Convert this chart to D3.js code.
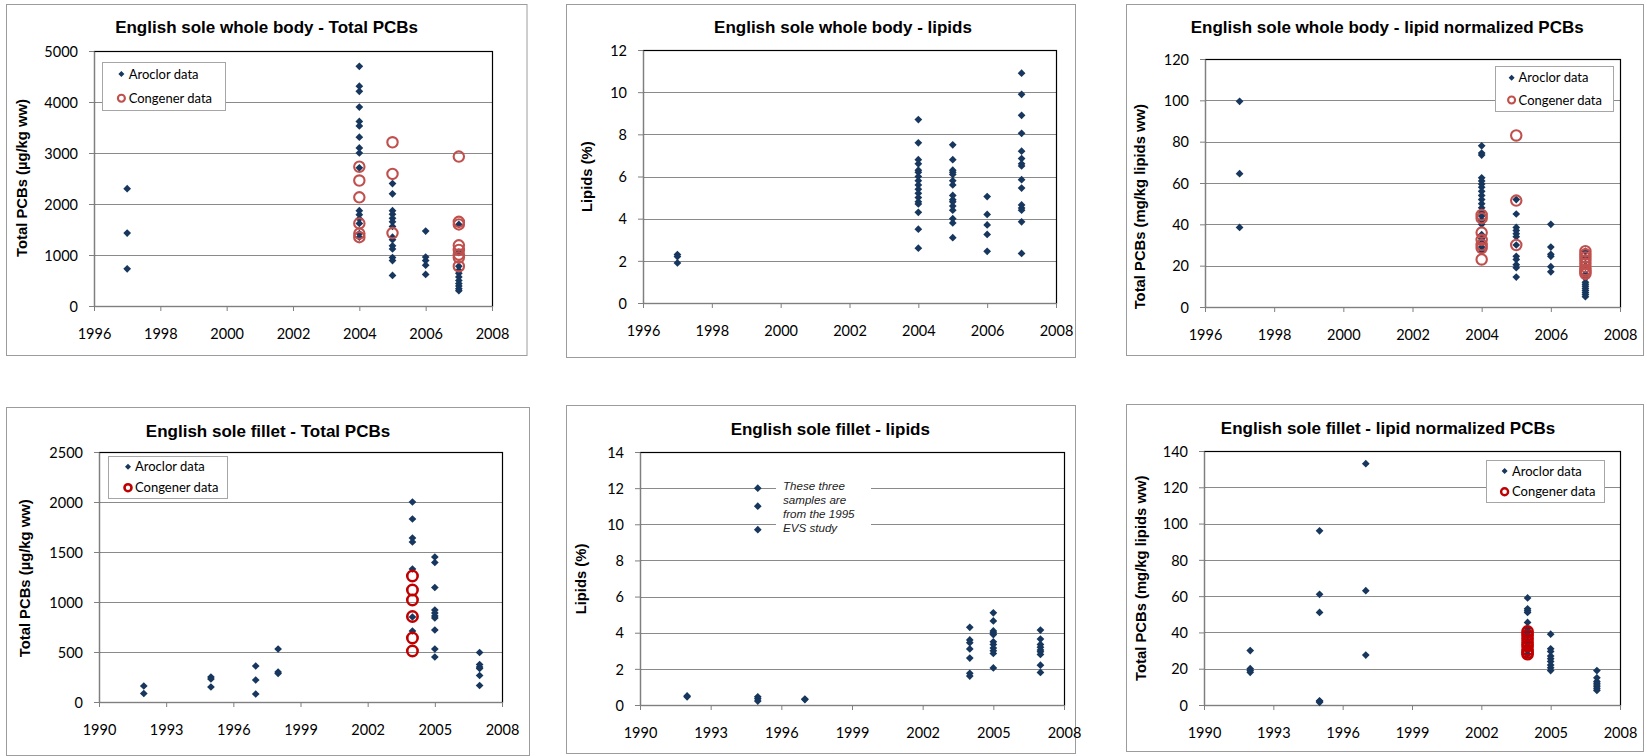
<!DOCTYPE html>
<html>
<head>
<meta charset="utf-8">
<script src="https://cdn.jsdelivr.net/npm/d3@7"></script>
<style>
  html, body { margin: 0; padding: 0; background: #fff; }
  svg { display: block; }
</style>
</head>
<body>
<svg id="chart" width="1647" height="756"></svg>
<script>
// ---------- data: [year, [values...]] ----------
// Whole body, total PCBs (µg/kg ww)
const wbPcbAroclor = [
  [1997, [2300, 1430, 730]],
  [2004, [4700, 4310, 4210, 3900, 3620, 3530, 3310, 3100, 3000, 2710, 1870, 1790, 1710, 1620, 1420, 1350]],
  [2005, [2400, 2200, 1870, 1800, 1720, 1650, 1560, 1350, 1300, 1180, 1120, 950, 890, 600]],
  [2006, [1470, 960, 890, 800, 620]],
  [2007, [1600, 1050, 780, 700, 640, 570, 500, 440, 390, 340, 300]]
];
const wbPcbCongener = [
  [2004, [2730, 2460, 2130, 1620, 1420, 1350]],
  [2005, [3210, 2590, 1430]],
  [2007, [2930, 1650, 1600, 1190, 1100, 1010, 950, 780]]
];
// Whole body, lipids (%)
const wbLipids = [
  [1997, [2.3, 2.2, 1.9]],
  [2004, [8.7, 7.6, 6.8, 6.6, 6.3, 6.2, 6.0, 5.8, 5.6, 5.4, 5.2, 5.0, 4.8, 4.7, 4.3, 3.5, 2.6]],
  [2005, [7.5, 6.8, 6.3, 6.2, 6.1, 5.8, 5.6, 5.1, 4.9, 4.8, 4.6, 4.4, 4.0, 3.8, 3.1]],
  [2006, [5.05, 4.2, 3.7, 3.25, 2.45]],
  [2007, [10.9, 9.9, 8.9, 8.05, 7.2, 6.85, 6.6, 6.5, 5.85, 5.45, 4.65, 4.5, 4.4, 3.85, 2.35]]
];
// Whole body, lipid normalized PCBs (mg/kg lipids ww)
const wbNormAroclor = [
  [1997, [99.5, 64.5, 38.5]],
  [2004, [78, 74.5, 73.5, 62.5, 61, 59.5, 58, 56, 54, 52, 50, 48, 46, 44, 42, 40, 35, 33, 31, 29, 27]],
  [2005, [52, 45, 38.5, 37, 35.5, 34, 30, 24.5, 23, 20.5, 19, 14.5]],
  [2006, [40, 29, 25.5, 24.5, 19.5, 17]],
  [2007, [27, 24, 20, 16, 14, 12, 11, 10, 9, 8, 7, 6, 5]]
];
const wbNormCongener = [
  [2004, [44.5, 43, 36, 32.5, 30, 28.5, 23]],
  [2005, [83, 51.5, 30]],
  [2007, [27, 25.5, 24, 22.5, 21, 19.5, 18, 17, 16]]
];
// Fillet, total PCBs (µg/kg ww)
const filPcbAroclor = [
  [1992, [160, 85]],
  [1995, [250, 230, 150]],
  [1997, [360, 220, 80]],
  [1998, [530, 300, 285]],
  [2004, [2000, 1830, 1640, 1600, 1330, 850, 710]],
  [2005, [1450, 1395, 1145, 920, 890, 860, 840, 720, 530, 450]],
  [2007, [495, 375, 350, 335, 265, 165]]
];
const filPcbCongener = [
  [2004, [1260, 1120, 1020, 855, 640, 510]]
];
// Fillet, lipids (%)
const filLipids = [
  [1992, [0.5, 0.45]],
  [1995, [12.0, 11.0, 9.7, 0.45, 0.35, 0.22]],
  [1997, [0.33, 0.3]],
  [2004, [4.3, 3.6, 3.45, 3.1, 2.6, 1.75, 1.6]],
  [2005, [5.1, 4.65, 4.1, 4.0, 3.9, 3.5, 3.35, 3.15, 3.0, 2.85, 2.05]],
  [2007, [4.15, 3.65, 3.35, 3.2, 3.05, 2.95, 2.8, 2.2, 1.8]]
];
// Fillet, lipid normalized PCBs (mg/kg lipids ww)
const filNormAroclor = [
  [1992, [30, 20, 19, 18]],
  [1995, [96, 61, 51, 2.3, 2.0, 1.5]],
  [1997, [133, 63, 27.5]],
  [2004, [59, 53, 52, 51, 45.5, 42, 40, 38, 35, 32, 30, 28]],
  [2005, [39, 31, 29.5, 27, 25.5, 24, 22, 20.5, 19]],
  [2007, [19, 15, 13, 12, 11, 10, 9, 8]]
];
const filNormCongener = [
  [2004, [40.5, 38.5, 36.5, 34.5, 32.5, 30.5, 29, 28]]
];

// tick labels
const wholeBodyYears = [1996, 1998, 2000, 2002, 2004, 2006, 2008];
const filletYears = [1990, 1993, 1996, 1999, 2002, 2005, 2008];
const ticksPcbWhole = [0, 1000, 2000, 3000, 4000, 5000];
const ticksLipidWhole = [0, 2, 4, 6, 8, 10, 12];
const ticksNormWhole = [0, 20, 40, 60, 80, 100, 120];
const ticksPcbFillet = [0, 500, 1000, 1500, 2000, 2500];
const ticksLipidFillet = [0, 2, 4, 6, 8, 10, 12, 14];
const ticksNormFillet = [0, 20, 40, 60, 80, 100, 120, 140];

const legendLabels = ["Aroclor data", "Congener data"];
const noteLines = ["These three", "samples are", "from the 1995", "EVS study"];

// ---------- styling ----------
const NAVY = "#17375e";
const TICK_FONT = "Lato, 'Open Sans', sans-serif";
const TITLE_FONT = "'Liberation Sans', Arial, sans-serif";
const GRID = "#8a8a8a";

const flat = groups => groups.flatMap(([yr, vals]) => vals.map(v => ({ year: yr, value: v })));

const svg = d3.select("#chart");

const panels = [
  {
    title: "English sole whole body - Total PCBs", yLabel: "Total PCBs (µg/kg ww)",
    box: [6.5, 4.5, 527, 355.5], plot: [94, 51, 492, 306],
    titleAt: [266.6, 32.7], yLabelAt: [21.7, 178],
    years: wholeBodyYears, yTicks: ticksPcbWhole,
    aroclor: wbPcbAroclor, congener: wbPcbCongener, ring: "#c0504d", ringW: 2.1,
    legend: { box: [102.5, 62.5, 225.5, 110.5], mx: 121.4, y1: 74, y2: 98.3, tx: 128.7 }
  },
  {
    title: "English sole whole body - lipids", yLabel: "Lipids (%)",
    box: [566.5, 4.5, 1075.5, 357.5], plot: [643, 50, 1056, 303],
    titleAt: [843, 33.3], yLabelAt: [587, 176.7],
    years: wholeBodyYears, yTicks: ticksLipidWhole,
    aroclor: wbLipids
  },
  {
    title: "English sole whole body - lipid normalized PCBs", yLabel: "Total PCBs (mg/kg lipids ww)",
    box: [1126.5, 4.5, 1643.5, 355.5], plot: [1205, 59, 1620, 307],
    titleAt: [1387.2, 33.3], yLabelAt: [1140, 206.7],
    years: wholeBodyYears, yTicks: ticksNormWhole,
    aroclor: wbNormAroclor, congener: wbNormCongener, ring: "#c0504d", ringW: 2.1,
    legend: { box: [1495.5, 66.5, 1613.5, 111.5], mx: 1511.6, y1: 77.7, y2: 100, tx: 1518.6 }
  },
  {
    title: "English sole fillet - Total PCBs", yLabel: "Total PCBs (µg/kg ww)",
    box: [6.5, 407.5, 529.5, 755.5], plot: [99, 452, 502, 702],
    titleAt: [268, 436.7], yLabelAt: [25.3, 578.3],
    years: filletYears, yTicks: ticksPcbFillet,
    aroclor: filPcbAroclor, congener: filPcbCongener, ring: "#c00000", ringW: 2.6,
    legend: { box: [108.5, 456.5, 227.5, 498.5], mx: 128, y1: 466.7, y2: 487.7, tx: 135 }
  },
  {
    title: "English sole fillet - lipids", yLabel: "Lipids (%)",
    box: [566.5, 405.5, 1075.5, 753.5], plot: [640, 452, 1064, 705],
    titleAt: [830.3, 435], yLabelAt: [581, 579],
    years: filletYears, yTicks: ticksLipidFillet,
    aroclor: filLipids,
    note: { box: [776, 480, 95, 56], tx: 783, y0: 490, step: 13.9 }
  },
  {
    title: "English sole fillet - lipid normalized PCBs", yLabel: "Total PCBs (mg/kg lipids ww)",
    box: [1126.5, 404.5, 1643.5, 751.5], plot: [1204, 451, 1620, 705],
    titleAt: [1388, 434.3], yLabelAt: [1141, 578.3],
    years: filletYears, yTicks: ticksNormFillet,
    aroclor: filNormAroclor, congener: filNormCongener, ring: "#c00000", ringW: 2.4,
    legend: { box: [1486.5, 460.5, 1604.5, 502.5], mx: 1504.6, y1: 471, y2: 491.7, tx: 1512 }
  }
];

const diamond = size => d3.symbol().type(d3.symbolSquare).size(size)();

function drawPanel(p) {
  const g = svg.append("g");
  const [bx0, by0, bx1, by1] = p.box;
  g.append("rect")
    .attr("x", bx0).attr("y", by0).attr("width", bx1 - bx0).attr("height", by1 - by0)
    .attr("fill", "#fff").attr("stroke", "#9c9c9c").attr("stroke-width", 1);

  const [px0, py0, px1, py1] = p.plot;
  const x = d3.scaleLinear().domain(d3.extent(p.years)).range([px0, px1]);
  const y = d3.scaleLinear().domain(d3.extent(p.yTicks)).range([py1, py0]);

  // horizontal gridlines
  g.append("g").selectAll("line")
    .data(p.yTicks.slice(1, -1))
    .join("line")
    .attr("x1", px0).attr("x2", px1)
    .attr("y1", d => Math.round(y(d)) + 0.5).attr("y2", d => Math.round(y(d)) + 0.5)
    .attr("stroke", GRID).attr("stroke-width", 1.1);

  // plot area frame
  g.append("rect")
    .attr("x", px0 + 0.5).attr("y", py0 + 0.5)
    .attr("width", px1 - px0).attr("height", py1 - py0)
    .attr("fill", "none").attr("stroke", "#000").attr("stroke-width", 1.2);

  // annotation box for the fillet lipids panel
  if (p.note) {
    const [nx, ny, nw, nh] = p.note.box;
    g.append("rect").attr("x", nx).attr("y", ny).attr("width", nw).attr("height", nh).attr("fill", "#fff");
    g.append("g").selectAll("text").data(noteLines).join("text")
      .attr("x", p.note.tx).attr("y", (d, i) => p.note.y0 + i * p.note.step)
      .attr("font-family", TITLE_FONT).attr("font-style", "italic").attr("font-size", 11.6)
      .attr("fill", "#222")
      .text(d => d);
  }

  // axes
  const yAxis = d3.axisLeft(y).tickValues(p.yTicks).tickSize(5).tickSizeOuter(0).tickPadding(11)
    .tickFormat(d3.format("d"));
  const ya = g.append("g").attr("transform", `translate(${px0},0)`).call(yAxis);
  const xAxis = d3.axisBottom(x).tickValues(p.years).tickSize(5).tickSizeOuter(0)
    .tickFormat(d3.format("d"));
  const xa = g.append("g").attr("transform", `translate(0,${py1})`).call(xAxis);
  [ya, xa].forEach(a => {
    a.attr("font-family", TICK_FONT).attr("font-size", 14.5);
    a.select(".domain").attr("stroke", "#7f7f7f").attr("stroke-width", 1.1);
    a.selectAll(".tick line").attr("stroke", "#7f7f7f");
    a.selectAll(".tick text").attr("fill", "#000");
  });
  ya.selectAll(".tick text").attr("dy", "0.36em");
  xa.selectAll(".tick text").attr("y", 27.3).attr("dy", "0.36em");

  // title
  g.append("text")
    .attr("x", p.titleAt[0]).attr("y", p.titleAt[1])
    .attr("text-anchor", "middle")
    .attr("font-family", TITLE_FONT).attr("font-weight", "bold").attr("font-size", 17)
    .text(p.title);

  // y axis title
  g.append("text")
    .attr("transform", `translate(${p.yLabelAt[0]},${p.yLabelAt[1]}) rotate(-90)`)
    .attr("text-anchor", "middle").attr("dy", "0.35em")
    .attr("font-family", TITLE_FONT).attr("font-weight", "bold").attr("font-size", 14.8)
    .text(p.yLabel);

  // Aroclor series (diamonds)
  g.append("g").selectAll("path")
    .data(flat(p.aroclor))
    .join("path")
    .attr("d", diamond(30))
    .attr("transform", d => `translate(${x(d.year)},${y(d.value)}) rotate(45)`)
    .attr("fill", NAVY);

  // Congener series (open rings)
  if (p.congener) {
    g.append("g").selectAll("circle")
      .data(flat(p.congener))
      .join("circle")
      .attr("cx", d => x(d.year)).attr("cy", d => y(d.value))
      .attr("r", 5.2)
      .attr("fill", "none").attr("stroke", p.ring).attr("stroke-width", p.ringW);
  }

  // legend
  if (p.legend) {
    const L = p.legend;
    g.append("rect")
      .attr("x", L.box[0]).attr("y", L.box[1])
      .attr("width", L.box[2] - L.box[0]).attr("height", L.box[3] - L.box[1])
      .attr("fill", "#fff").attr("stroke", "#a6a6a6").attr("stroke-width", 1);
    g.append("path").attr("d", diamond(18))
      .attr("transform", `translate(${L.mx},${L.y1}) rotate(45)`).attr("fill", NAVY);
    g.append("circle").attr("cx", L.mx).attr("cy", L.y2).attr("r", 3.5)
      .attr("fill", "none").attr("stroke", p.ring).attr("stroke-width", p.ringW);
    g.append("g").selectAll("text").data(legendLabels).join("text")
      .attr("x", L.tx).attr("y", (d, i) => (i === 0 ? L.y1 : L.y2))
      .attr("dy", "0.36em")
      .attr("font-family", TICK_FONT).attr("font-size", 13).attr("fill", "#000")
      .text(d => d);
  }
}

panels.forEach(drawPanel);
</script>
</body>
</html>
